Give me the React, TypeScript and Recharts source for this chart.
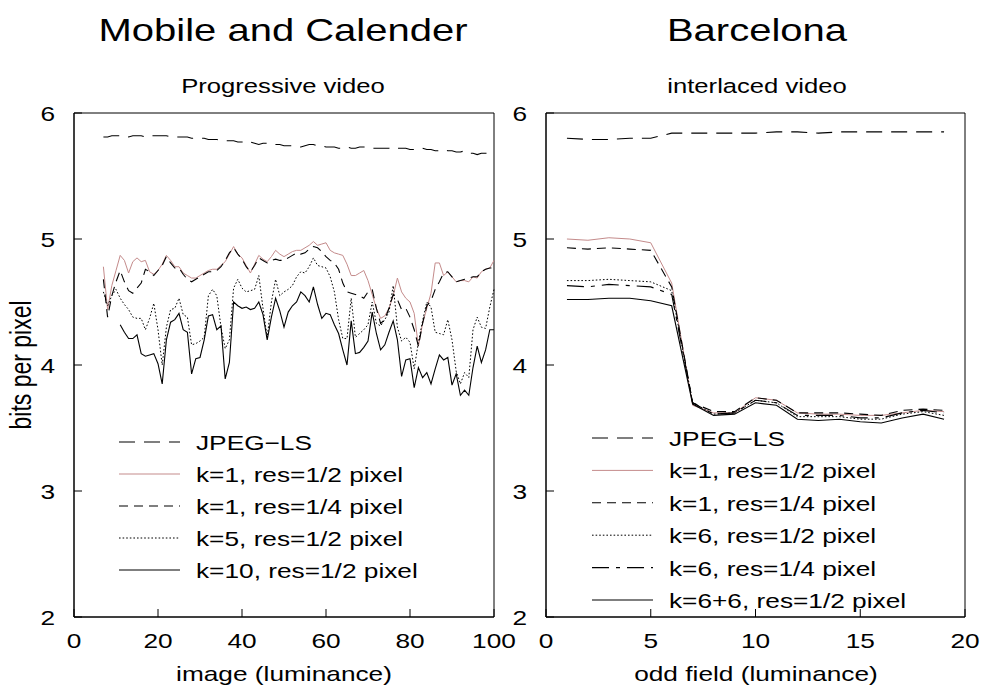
import React from 'react';
import { LineChart, Line, XAxis, YAxis, ReferenceArea } from 'recharts';

const FONT = '"Liberation Sans", Arial, Helvetica, sans-serif';
const SX = 1.25; // the source picture is stretched sideways, so text is too
const PINK = '#c48b8b';

// ---- Mobile and Calender (progressive) ----
const mcFrames = [
  7, 8, 9, 10, 11, 12, 13, 14, 15, 16, 17, 18, 19, 20, 21, 22, 23, 24, 25, 26,
  27, 28, 29, 30, 31, 32, 33, 34, 35, 36, 37, 38, 39, 40, 41, 42, 43, 44, 45, 46,
  47, 48, 49, 50, 51, 52, 53, 54, 55, 56, 57, 58, 59, 60, 61, 62, 63, 64, 65, 66,
  67, 68, 69, 70, 71, 72, 73, 74, 75, 76, 77, 78, 79, 80, 81, 82, 83, 84, 85, 86,
  87, 88, 89, 90, 91, 92, 93, 94, 95, 96, 97, 98, 99, 100,
];
const mcJpeg = [
  5.81, 5.81, 5.82, 5.82, 5.82, 5.82, 5.81, 5.82, 5.82, 5.82, 5.81, 5.82, 5.82, 5.82,
  5.82, 5.82, 5.81, 5.81, 5.81, 5.81, 5.81, 5.80, 5.80, 5.80, 5.80, 5.79, 5.79, 5.79, 5.78,
  5.78, 5.78, 5.78, 5.77, 5.77, 5.76, 5.77, 5.76, 5.75, 5.76, 5.76, 5.75, 5.75, 5.75, 5.74,
  5.74, 5.74, 5.73, 5.73, 5.74, 5.75, 5.75, 5.74, 5.74, 5.73, 5.73, 5.73, 5.72, 5.72, 5.73,
  5.72, 5.72, 5.73, 5.73, 5.73, 5.72, 5.72, 5.72, 5.72, 5.72, 5.71, 5.72, 5.72, 5.72, 5.71,
  5.71, 5.71, 5.72, 5.71, 5.71, 5.70, 5.70, 5.71, 5.70, 5.70,
  5.69, 5.69, 5.70, 5.68, 5.68, 5.67, 5.68, 5.68, 5.68, 5.68,
];
const mcK1Half = [
  4.78, 4.44, 4.63, 4.75, 4.87, 4.83, 4.73, 4.82, 4.85, 4.82,
  4.83, 4.74, 4.72, 4.75, 4.80, 4.87, 4.83, 4.78, 4.78, 4.73,
  4.71, 4.69, 4.69, 4.71, 4.73, 4.75, 4.76, 4.76, 4.79, 4.82,
  4.88, 4.94, 4.88, 4.85, 4.79, 4.73, 4.80, 4.87, 4.84, 4.82,
  4.86, 4.91, 4.88, 4.86, 4.88, 4.90, 4.91, 4.91, 4.93, 4.95,
  4.98, 4.95, 4.96, 4.97, 4.91, 4.89, 4.88, 4.87, 4.80, 4.71,
  4.71, 4.73, 4.75, 4.67, 4.56, 4.45, 4.37, 4.39, 4.45, 4.55,
  4.69, 4.58, 4.53, 4.50, 4.41, 4.15, 4.33, 4.45, 4.57, 4.81,
  4.81, 4.71, 4.74, 4.70, 4.66, 4.67, 4.67, 4.66, 4.70, 4.69,
  4.74, 4.76, 4.77, 4.83,
];
const mcK1Quarter = [
  4.68, 4.38, 4.55, 4.66, 4.75, 4.66, 4.59, 4.57, 4.61, 4.65,
  4.76, 4.74, 4.71, 4.75, 4.79, 4.86, 4.81, 4.77, 4.77, 4.72,
  4.68, 4.66, 4.68, 4.70, 4.72, 4.74, 4.74, 4.75, 4.78, 4.83,
  4.89, 4.93, 4.88, 4.84, 4.78, 4.74, 4.79, 4.85, 4.83, 4.81,
  4.83, 4.84, 4.83, 4.83, 4.85, 4.87, 4.89, 4.88, 4.89, 4.92,
  4.94, 4.93, 4.90, 4.86, 4.83, 4.81, 4.76, 4.65, 4.58, 4.57,
  4.56, 4.55, 4.53, 4.58, 4.60, 4.45, 4.33, 4.36, 4.45, 4.56,
  4.52, 4.44, 4.45, 4.38, 4.28, 4.15, 4.33, 4.47, 4.51, 4.60,
  4.66, 4.73, 4.74, 4.70, 4.66, 4.67, 4.68, 4.69, 4.70, 4.70,
  4.74, 4.76, 4.77, 4.77,
];
const mcK5 = [
  4.58, 4.47, 4.55, 4.60, 4.53, 4.48, 4.44, 4.38, 4.37, 4.37,
  4.28, 4.37, 4.49, 4.28, 4.00, 4.30, 4.44, 4.45, 4.53, 4.40,
  4.38, 4.16, 4.17, 4.19, 4.22, 4.55, 4.60, 4.55, 4.30, 4.13,
  4.20, 4.61, 4.68, 4.61, 4.58, 4.59, 4.60, 4.71, 4.45, 4.22,
  4.50, 4.68, 4.55, 4.58, 4.60, 4.63, 4.70, 4.74, 4.73, 4.78,
  4.85, 4.79, 4.78, 4.77, 4.70, 4.58, 4.36, 4.21, 4.21, 4.53,
  4.22, 4.25, 4.28, 4.32, 4.50, 4.33, 4.31, 4.36, 4.42, 4.63,
  4.30, 4.19, 4.22, 4.18, 3.97, 4.18, 4.35, 4.50, 4.46, 4.26,
  4.25, 4.24, 4.36, 4.20, 3.95, 3.85, 3.94, 3.90, 4.28, 4.38,
  4.30, 4.29, 4.46, 4.60,
];
// k=10 needs ten previous frames, so it starts at frame 11
const mcK10 = [
  null, null, null, null,
  4.32, 4.26, 4.21, 4.21, 4.24, 4.09, 4.07, 4.08, 4.09, 4.01,
  3.85, 4.20, 4.34, 4.36, 4.41, 4.28, 4.26, 3.93, 4.05, 4.06,
  4.20, 4.39, 4.40, 4.28, 4.31, 3.89, 4.02, 4.50, 4.47, 4.45,
  4.46, 4.44, 4.45, 4.50, 4.40, 4.20, 4.38, 4.53, 4.43, 4.30,
  4.42, 4.47, 4.50, 4.58, 4.55, 4.50, 4.62, 4.48, 4.37, 4.41,
  4.40, 4.32, 4.25, 4.12, 4.00, 4.35, 4.09, 4.10, 4.14, 4.19,
  4.42, 4.25, 4.12, 4.16, 4.26, 4.35, 4.20, 3.91, 4.04, 4.05,
  3.82, 3.98, 3.90, 3.94, 3.85, 3.97, 4.08, 4.04, 4.06, 3.84,
  3.93, 3.76, 3.80, 3.76, 3.98, 4.15, 4.02, 4.12, 4.28, 4.28,
];

// ---- Barcelona (interlaced) ----
const bcFields = [1, 2, 3, 4, 5, 6, 7, 8, 9, 10, 11, 12, 13, 14, 15, 16, 17, 18, 19];
const bcJpeg = [5.80, 5.79, 5.79, 5.80, 5.80, 5.84, 5.84, 5.84, 5.84, 5.84, 5.85, 5.85, 5.84, 5.85, 5.85, 5.85, 5.85, 5.85, 5.85];
const bcK1Half = [5.00, 4.99, 5.01, 5.00, 4.97, 4.65, 3.68, 3.62, 3.62, 3.74, 3.72, 3.62, 3.61, 3.61, 3.60, 3.60, 3.62, 3.64, 3.63];
const bcK1Quarter = [4.93, 4.92, 4.93, 4.92, 4.91, 4.62, 3.70, 3.63, 3.63, 3.74, 3.72, 3.62, 3.62, 3.62, 3.61, 3.60, 3.64, 3.65, 3.64];
const bcK6Half = [4.67, 4.67, 4.68, 4.67, 4.66, 4.59, 3.70, 3.61, 3.62, 3.72, 3.70, 3.59, 3.59, 3.59, 3.57, 3.57, 3.61, 3.63, 3.60];
const bcK6Quarter = [4.63, 4.62, 4.64, 4.63, 4.62, 4.56, 3.70, 3.61, 3.62, 3.72, 3.70, 3.60, 3.60, 3.60, 3.58, 3.58, 3.62, 3.64, 3.62];
const bcK66 = [4.52, 4.52, 4.53, 4.53, 4.51, 4.47, 3.69, 3.60, 3.61, 3.70, 3.68, 3.57, 3.56, 3.57, 3.55, 3.54, 3.58, 3.61, 3.57];

const yTicks = [2, 3, 4, 5, 6];
const mcXTicks = [0, 20, 40, 60, 80, 100];
const bcXTicks = [0, 5, 10, 15, 20];

const mcLabels = ['JPEG\u2212LS', 'k=1, res=1/2 pixel', 'k=1, res=1/4 pixel', 'k=5, res=1/2 pixel', 'k=10, res=1/2 pixel'];
const bcLabels = ['JPEG\u2212LS', 'k=1, res=1/2 pixel', 'k=1, res=1/4 pixel', 'k=6, res=1/2 pixel', 'k=6, res=1/4 pixel', 'k=6+6, res=1/2 pixel'];

const styles = {
  jpeg: { stroke: '#000', dash: '16 9', width: 1.1 },
  k1h: { stroke: PINK, dash: undefined, width: 1 },
  k1q: { stroke: '#000', dash: '9 6', width: 1.1 },
  dot: { stroke: '#000', dash: '1.6 2', width: 1 },
  dashdot: { stroke: '#000', dash: '17 7 4 7', width: 1.1 },
  solid: { stroke: '#000', dash: undefined, width: 1.1 },
};

const mcKeys = [
  ['jpeg', styles.jpeg], ['k1h', styles.k1h], ['k1q', styles.k1q], ['k5', styles.dot], ['k10', styles.solid],
] as const;
const bcKeys = [
  ['jpeg', styles.jpeg], ['k1h', styles.k1h], ['k1q', styles.k1q], ['k6h', styles.dot], ['k6q', styles.dashdot], ['k66', styles.solid],
] as const;

const mcData = mcFrames.map((f, i) => ({
  f, jpeg: mcJpeg[i], k1h: mcK1Half[i], k1q: mcK1Quarter[i], k5: mcK5[i], k10: mcK10[i],
}));
const bcData = bcFields.map((f, i) => ({
  f, jpeg: bcJpeg[i], k1h: bcK1Half[i], k1q: bcK1Quarter[i], k6h: bcK6Half[i], k6q: bcK6Quarter[i], k66: bcK66[i],
}));

const Txt = ({ x, y, size, anchor = 'start', children, rotate = false }: any) => (
  <text
    transform={rotate ? `translate(${x},${y}) rotate(-90) scale(1,${SX})` : `translate(${x},${y}) scale(${SX},1)`}
    textAnchor={anchor}
    fontSize={size}
    fontFamily={FONT}
    fill="#000"
  >
    {children}
  </text>
);

const BottomTick = (props: any) => {
  const { x, y, payload } = props;
  return (
    <g>
      <line x1={x} y1={y} x2={x} y2={y - 8} stroke="#000" />
      <Txt x={x} y={y + 31} size={21} anchor="middle">{payload.value}</Txt>
    </g>
  );
};

const LeftTick = (props: any) => {
  const { x, y, payload } = props;
  return (
    <g>
      <line x1={x} y1={y} x2={x + 8} y2={y} stroke="#000" />
      <Txt x={x - 19} y={y + 8} size={21} anchor="end">{payload.value}</Txt>
    </g>
  );
};

const Legend = ({ left, top, gap, labels, keys }: any) => (
  <svg
    width={420}
    height={gap * labels.length + 20}
    style={{ position: 'absolute', left, top: top - 16, overflow: 'visible' }}
  >
    {labels.map((label: string, i: number) => {
      const st = keys[i][1];
      const y = 16 + i * gap;
      return (
        <g key={label}>
          <line x1={0} y1={y} x2={61} y2={y} stroke={st.stroke} strokeWidth={st.width} strokeDasharray={st.dash} />
          <Txt x={77} y={y + 8} size={21}>{label}</Txt>
        </g>
      );
    })}
  </svg>
);

const Panel = ({ data, keys, xMax, xTicks, width, yAxisWidth, right }: any) => (
  <LineChart width={width} height={690} data={data} margin={{ top: 113, right, left: 0, bottom: 0 }}>
    <ReferenceArea x1={0} x2={xMax} y1={2} y2={6} fill="none" stroke="#000" strokeWidth={1} />
    <XAxis
      dataKey="f"
      type="number"
      domain={[0, xMax]}
      ticks={xTicks}
      interval={0}
      height={73}
      axisLine={{ stroke: '#000' }}
      tickLine={false}
      tickSize={0}
      tickMargin={0}
      tick={(p: any) => <BottomTick {...p} />}
    />
    <YAxis
      type="number"
      domain={[2, 6]}
      ticks={yTicks}
      interval={0}
      width={yAxisWidth}
      axisLine={{ stroke: '#000' }}
      tickLine={false}
      tickSize={0}
      tickMargin={0}
      tick={(p: any) => <LeftTick {...p} />}
    />
    {keys.map(([k, st]: any) => (
      <Line
        key={k}
        type="linear"
        dataKey={k}
        stroke={st.stroke}
        strokeWidth={st.width}
        strokeDasharray={st.dash}
        dot={false}
        activeDot={false}
        isAnimationActive={false}
      />
    ))}
  </LineChart>
);

export default function App() {
  return (
    <div style={{ position: 'absolute', left: 0, top: 0, width: 982, height: 690, background: '#fff', overflow: 'hidden' }}>
      <div style={{ position: 'absolute', left: 0, top: 0 }}>
        <Panel data={mcData} keys={mcKeys} xMax={100} xTicks={mcXTicks} width={520} yAxisWidth={74} right={26} />
      </div>
      <div style={{ position: 'absolute', left: 500, top: 0 }}>
        <Panel data={bcData} keys={bcKeys} xMax={20} xTicks={bcXTicks} width={482} yAxisWidth={46} right={17} />
      </div>
      <Legend left={119} top={442} gap={32} labels={mcLabels} keys={mcKeys} />
      <Legend left={592} top={438} gap={32.4} labels={bcLabels} keys={bcKeys} />
      <svg width={982} height={690} style={{ position: 'absolute', left: 0, top: 0, pointerEvents: 'none' }}>
        <Txt x={283} y={41} size={32} anchor="middle">Mobile and Calender</Txt>
        <Txt x={757} y={41} size={32} anchor="middle">Barcelona</Txt>
        <Txt x={283} y={93} size={20.5} anchor="middle">Progressive video</Txt>
        <Txt x={757} y={93} size={20.5} anchor="middle">interlaced video</Txt>
        <Txt x={31} y={365} size={23} anchor="middle" rotate>bits per pixel</Txt>
        <Txt x={284} y={681} size={21} anchor="middle">image (luminance)</Txt>
        <Txt x={756} y={681} size={21} anchor="middle">odd field (luminance)</Txt>
      </svg>
    </div>
  );
}
